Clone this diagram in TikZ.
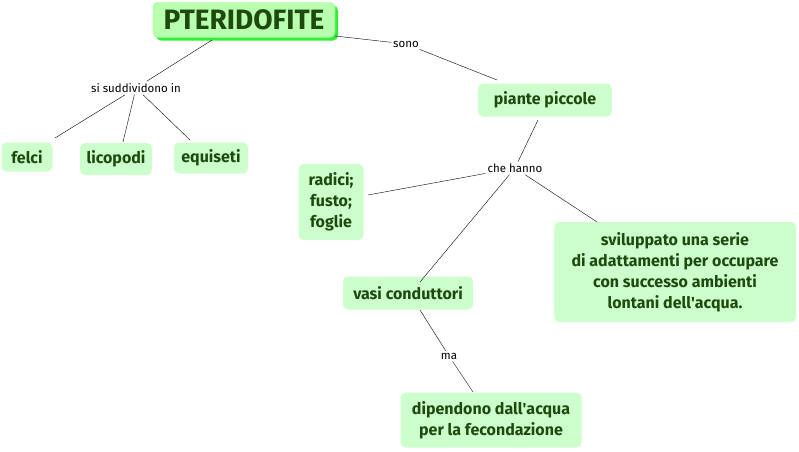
\documentclass[tikz,border=0pt]{standalone}
\usepackage{fontspec}
\setmainfont{Fira Sans}
\usetikzlibrary{positioning, shadows}

\definecolor{boxgreen}{HTML}{CCFFCC}
\definecolor{topgreen}{HTML}{B8FFB0}
\definecolor{shadowgreen}{HTML}{33EE33}
\definecolor{textgreen}{HTML}{1E4A0E}

\begin{document}
\begin{tikzpicture}[
  x=1pt, y=-1pt,
  concept/.style = {fill=boxgreen, rounded corners=5pt, inner sep=3pt,
                    align=center, text=textgreen, font=\bfseries\fontsize{16}{21}\selectfont},
  topic/.style   = {concept, fill=topgreen, draw=topgreen!70!green,
                    font=\bfseries\fontsize{28}{30}\selectfont,
                    drop shadow={shadow xshift=3pt, shadow yshift=-3pt, fill=shadowgreen, opacity=1}},
  link/.style    = {font=\fontsize{11.5}{13}\selectfont, inner sep=2pt, fill=white},
]
  \useasboundingbox (0,0) rectangle (799,451);

  \node[topic, minimum width=182, minimum height=35] (pter)  at (244,20)  {PTERIDOFITE};
  \node[concept, minimum width=134, minimum height=33] (piccole) at (545,100) {piante piccole};

  \node[concept, minimum width=51, minimum height=29] (felci) at (27,157)  {felci};
  \node[concept, minimum width=72, minimum height=32] (lico)  at (116,159) {licopodi};
  \node[concept, minimum width=74, minimum height=31] (equi)  at (211,158) {equiseti};

  \node[concept, minimum width=65, minimum height=76] (radici) at (331,202)
        {radici;\\fusto;\\foglie};
  \node[concept, minimum width=242, minimum height=100] (svil) at (675,272)
        {sviluppato una serie\\di adattamenti per occupare\\con successo ambienti\\lontani dell\textquotesingle acqua.};
  \node[concept, minimum width=130, minimum height=33] (vasi) at (408,293) {vasi conduttori};
  \node[concept, minimum width=181, minimum height=55] (dipen) at (491,420)
        {dipendono dall\textquotesingle acqua\\per la fecondazione};

  % linking phrases
  \node[link] (sono)  at (406,44)  {sono};
  \node[link] (suddi) at (136,88)  {si suddividono in};
  \node[link] (hanno) at (515,168) {che hanno};
  \node[link] (ma)    at (449,356) {ma};

  \draw (pter.east |- 0,36) -- (sono) -- (497,80);
  \draw (212,40) -- (suddi);
  \draw (suddi) -- (55,138);
  \draw (suddi) -- (123,142);
  \draw (suddi) -- (190,140);
  \draw (538,120) -- (hanno);
  \draw (hanno) -- (368,195);
  \draw (hanno) -- (420,282);
  \draw (hanno) -- (597,222);
  \draw (420,310) -- (ma) -- (473,392);
\end{tikzpicture}
\end{document}
